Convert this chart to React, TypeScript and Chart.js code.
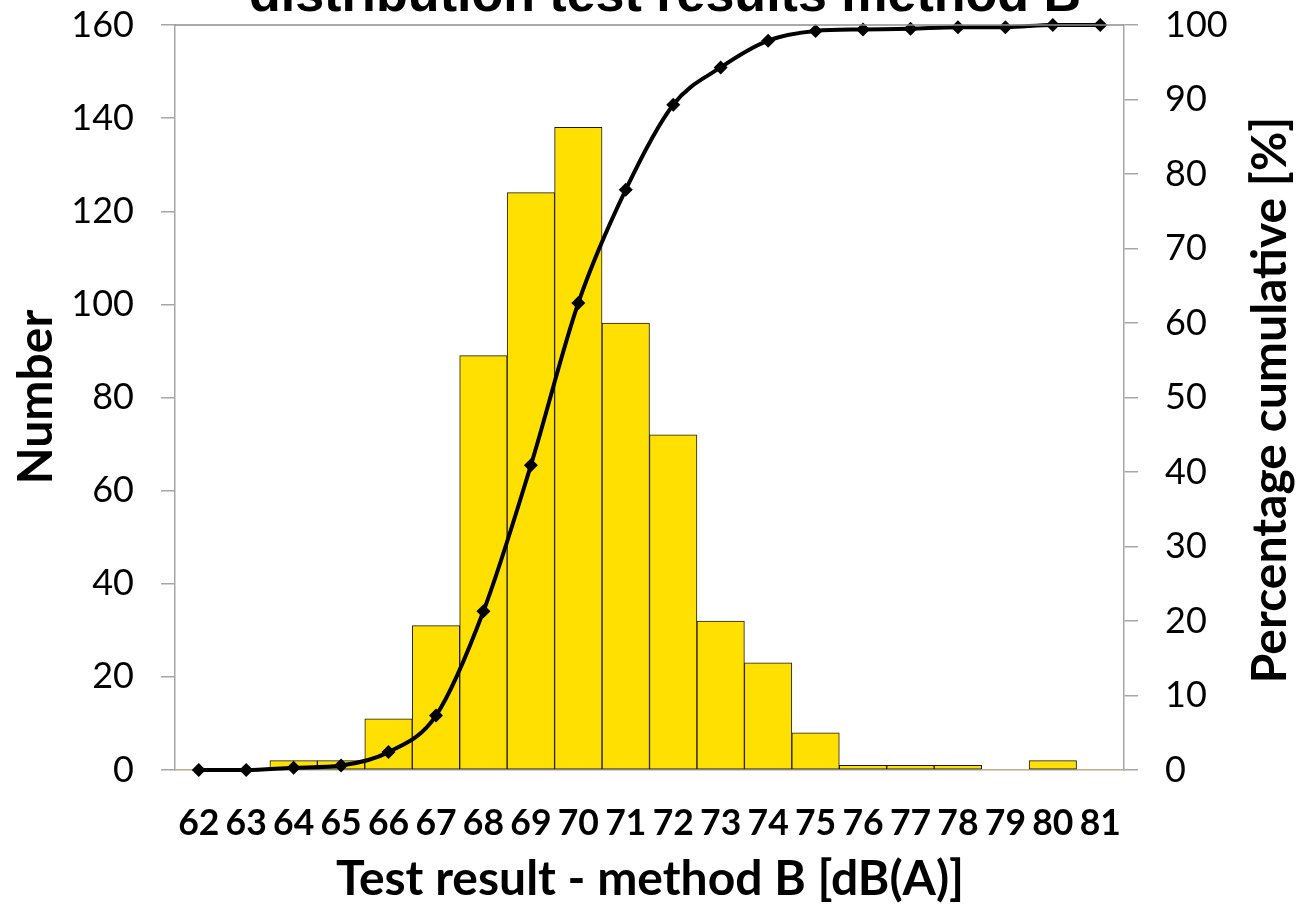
import React, { useEffect, useRef } from "react";
import { Chart, registerables } from "chart.js";

Chart.register(...registerables);

const categories = ["62","63","64","65","66","67","68","69","70","71","72","73","74","75","76","77","78","79","80","81"];
const counts = [0, 0, 2, 2, 11, 31, 89, 124, 138, 96, 72, 32, 23, 8, 1, 1, 1, 0, 2, 0];
const cumulativePct = [0, 0, 0.3, 0.6, 2.4, 7.3, 21.3, 40.9, 62.7, 77.9, 89.3, 94.3, 97.9, 99.2, 99.4, 99.5, 99.7, 99.7, 100, 100];
const leftTicks = [0, 20, 40, 60, 80, 100, 120, 140, 160];
const rightTicks = [0, 10, 20, 30, 40, 50, 60, 70, 80, 90, 100];

const mainTitle = "distribution test results method B";
const xTitle = "Test result - method B [dB(A)]";
const yTitle = "Number";
const y1Title = "Percentage cumulative [%]";

const AXIS_GRAY = "#a6a6a6";

const titlesPlugin = {
  id: "titlesPlugin",
  beforeDraw(chart: any) {
    const { ctx } = chart;
    ctx.save();
    ctx.fillStyle = "#ffffff";
    ctx.fillRect(0, 0, chart.width, chart.height);
    ctx.restore();
  },
  afterDraw(chart: any) {
    const { ctx, chartArea } = chart;
    ctx.save();
    ctx.strokeStyle = "#8c8c8c";
    ctx.lineWidth = 1.5;
    ctx.beginPath();
    ctx.moveTo(chartArea.left, chartArea.top);
    ctx.lineTo(chartArea.right, chartArea.top);
    ctx.stroke();

    ctx.fillStyle = "#000";
    ctx.textAlign = "center";
    ctx.textBaseline = "alphabetic";
    ctx.font = 'bold 52px "Liberation Sans"';
    ctx.fillText(mainTitle, 665, 11);
    ctx.font = 'bold 48px "Lato"';
    ctx.fillText(xTitle, 650, 895);
    ctx.save();
    ctx.translate(52, 397);
    ctx.rotate(-Math.PI / 2);
    ctx.fillText(yTitle, 0, 0);
    ctx.restore();
    ctx.save();
    ctx.translate(1286, 400);
    ctx.rotate(-Math.PI / 2);
    ctx.fillText(y1Title, 0, 0);
    ctx.restore();
    ctx.restore();
  },
};

export default function App() {
  const ref = useRef<HTMLCanvasElement | null>(null);
  useEffect(() => {
    if (!ref.current) return;
    const chart = new Chart(ref.current, {
      type: "bar",
      data: {
        labels: categories,
        datasets: [
          {
            type: "line",
            label: "Cumulative",
            data: cumulativePct,
            yAxisID: "y1",
            borderColor: "#000",
            borderWidth: 4,
            cubicInterpolationMode: "monotone",
            pointStyle: "rectRot",
            pointRadius: 7,
            pointBackgroundColor: "#000",
            pointBorderColor: "#000",
            pointBorderWidth: 0,
            clip: false,
            order: 1,
          } as any,
          {
            type: "bar",
            label: "Number",
            data: counts,
            yAxisID: "y",
            backgroundColor: "#FFE000",
            borderColor: "#1a1a1a",
            borderWidth: (c: any) => (c.raw === 0 ? 0 : 1),
            borderSkipped: false,
            barPercentage: 1,
            categoryPercentage: 1,
            order: 2,
          } as any,
        ],
      },
      options: {
        animation: false,
        responsive: true,
        maintainAspectRatio: false,
        layout: { padding: { top: 25, left: 0, right: 0, bottom: 0 } },
        plugins: {
          legend: { display: false },
          title: { display: false },
          tooltip: { enabled: false },
        },
        scales: {
          x: {
            type: "category",
            offset: true,
            position: "bottom",
            grid: { display: false, drawTicks: false },
            border: { display: true, color: AXIS_GRAY, width: 1.5 },
            ticks: {
              color: "#000",
              font: { family: "Lato", size: 35.5, weight: "bold" },
              padding: 32,
              maxRotation: 0,
              autoSkip: false,
            },
            afterFit: (s: any) => { s.height = 137; s.paddingLeft = 0; s.paddingRight = 0; },
          },
          y: {
            position: "left",
            min: 0,
            max: 160,
            afterBuildTicks: (s: any) => { s.ticks = leftTicks.map((v) => ({ value: v })); },
            grid: { display: true, drawOnChartArea: false, drawTicks: true, tickLength: 14, color: AXIS_GRAY, lineWidth: 1.5 },
            border: { display: true, color: AXIS_GRAY, width: 1.5 },
            ticks: { color: "#000", font: { family: "Lato", size: 36 }, padding: 27 },
            afterFit: (s: any) => { s.width = 175; s.paddingTop = 0; s.paddingBottom = 0; },
          },
          y1: {
            position: "right",
            min: 0,
            max: 100,
            afterBuildTicks: (s: any) => { s.ticks = rightTicks.map((v) => ({ value: v })); },
            grid: { display: true, drawOnChartArea: false, drawTicks: true, tickLength: 14, color: AXIS_GRAY, lineWidth: 1.5 },
            border: { display: true, color: AXIS_GRAY, width: 1.5 },
            ticks: { color: "#000", font: { family: "Lato", size: 36 }, padding: 27 },
            afterFit: (s: any) => { s.width = 173; s.paddingTop = 0; s.paddingBottom = 0; },
          },
        },
      },
      plugins: [titlesPlugin],
    });
    return () => chart.destroy();
  }, []);
  return (
    <div style={{ position: "absolute", left: 0, top: 0, width: 1297, height: 907, background: "#fff" }}>
      <canvas ref={ref} />
    </div>
  );
}
